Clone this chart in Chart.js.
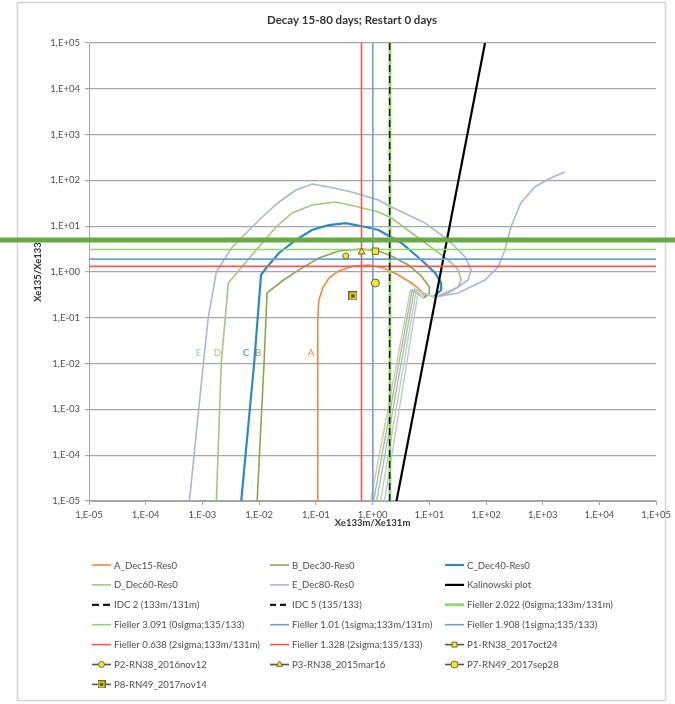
<!DOCTYPE html>
<html>
<head>
<meta charset="utf-8">
<script src="https://cdn.jsdelivr.net/npm/chart.js@4.4.1/dist/chart.umd.min.js"></script>
<style>
  html, body { margin: 0; padding: 0; background: #ffffff; }
  #wrap { position: relative; width: 675px; height: 704px; }
</style>
</head>
<body>
<div id="wrap"><canvas id="c" width="675" height="704"></canvas></div>
<script>
// ---- axis ticks (decades only) ----
const tickValues = [1e-5, 1e-4, 1e-3, 1e-2, 1e-1, 1, 10, 100, 1e3, 1e4, 1e5];
const tickLabels = ['1,E-05', '1,E-04', '1,E-03', '1,E-02', '1,E-01', '1,E+00',
                    '1,E+01', '1,E+02', '1,E+03', '1,E+04', '1,E+05'];

// ---- decay curves: [Xe133m/Xe131m, Xe135/Xe133] ----
const curveA = [[0.108,1e-5],[0.108,0.09],[0.113,0.245],[0.133,0.45],[0.169,0.74],[0.253,1.05],
  [0.464,1.35],[0.851,1.42],[1.56,1.22],[2.86,0.86],[4.83,0.575],[6.95,0.405],[8.5,0.30],
  [4.64,0.40],[0.922,1e-5]];
const curveB = [[9.22e-3,1e-5],[0.0122,0.0103],[0.0138,0.348],[0.0254,0.636],[0.0503,1.11],
  [0.113,2.02],[0.253,2.87],[0.641,3.18],[1.27,2.87],[2.15,2.24],[4.28,1.42],[7.24,0.818],
  [10.0,0.47],[10.0,0.331],[7.85,0.271],[5.0,0.405],[1.04,1e-5]];
const curveC = [[4.83e-3,1e-5],[8.17e-3,0.0103],[0.0108,0.86],[0.0133,1.22],[0.0224,2.60],
  [0.0446,5.0],[0.0851,8.26],[0.169,10.6],[0.336,11.7],[0.754,9.6],[1.27,8.26],[3.23,4.30],
  [7.24,1.83],[12.7,0.95],[16.2,0.575],[16.2,0.405],[11.7,0.284],[5.46,0.425],[1.18,1e-5]];
const curveD = [[1.76e-3,1e-5],[2.15e-3,0.0103],[2.86e-3,0.575],[4.46e-3,1.11],[8.86e-3,3.02],
  [0.0199,9.6],[0.038,19.4],[0.0851,29.0],[0.224,33.8],[0.568,26.3],[1.27,20.4],[2.15,15.1],
  [8.51,4.30],[21.5,1.83],[32.3,1.11],[36.4,0.67],[32.3,0.47],[21.5,0.348],[12.7,0.284],
  [5.91,0.405],[1.38,1e-5]];
const curveE = [[5.9e-4,1e-5],[1.04e-3,0.0103],[1.27e-3,0.104],[1.76e-3,1.0],[1.99e-3,1.29],
  [3.36e-3,3.52],[5.92e-3,7.11],[0.0113,15.9],[0.0224,33.8],[0.0446,61.7],[0.0851,83.4],
  [0.169,71.8],[0.428,55.8],[1.27,37.3],[2.15,26.3],[8.51,11.7],[21.5,5.0],[42.8,2.13],
  [54.6,1.11],[48.3,0.67],[32.3,0.47],[19.1,0.348],[12.7,0.284],[6.41,0.385],[1.62,1e-5],
  null,
  [12.7,0.284],[32.3,0.348],[96,0.67],[163,1.29],[215,3.02],[275,9.6],[411,32.1],[724,71.8],
  [1380,113],[2430,152]];
// index of the point where each curve turns into its steep lower branch
const lowerBranchFrom = { A: 12, B: 14, C: 16, D: 18, E: 22 };
const kalinowski = [[2.64,1e-5],[96,1e5]];

// ---- screening thresholds ----
const idcRatio133m131m = 2;
const idcRatio135133 = 5;
const fieller133m131m = [2.022, 1.01, 0.638];   // 0, 1, 2 sigma
const fieller135133   = [3.091, 1.908, 1.328];  // 0, 1, 2 sigma

// ---- measured samples ----
const sampleP1 = [[1.12, 2.85]];
const sampleP2 = [[0.336, 2.24]];
const sampleP3 = [[0.641, 2.73]];
const sampleP7 = [[1.12, 0.575]];
const sampleP8 = [[0.45, 0.30]];

// ---- curve tags drawn on the plot ----
const tagText = ['E', 'D', 'C', 'B', 'A'];
const tagX = [8.5e-4, 1.83e-3, 5.9e-3, 9.6e-3, 0.0817];
const tagY = 0.017;

const colA = '#f08a3c', colB = '#86a94c', colC = '#2a8bc2', colD = '#a5c77c', colE = '#aab6d8';
const paleA = '#cfc7b4', paleB = '#a9c08e', paleC = '#a2bccd', paleD = '#bcd3a2', paleE = '#bcc5dd';
const colGreen = '#8fd96b', colBlue = '#6f9fd8', colRed = '#f25a5a';
const markFill = '#f3e43f', markEdge = '#6b6b1c';

function pts(arr) {
  return arr.map(p => p ? { x: p[0], y: p[1] } : { x: null, y: null });
}
function vLine(v) { return [[v, 1e-5], [v, 1e5]]; }
function hLine(v) { return [[1e-5, v], [1e5, v]]; }

function lineSet(label, data, color, width, order, extra) {
  return Object.assign({
    label, data: pts(data), borderColor: color, backgroundColor: color,
    borderWidth: width, showLine: true, pointRadius: 0, pointHoverRadius: 0,
    tension: 0, fill: false, order
  }, extra || {});
}
function curveSet(label, data, color, pale, from, width, order) {
  return lineSet(label, data, color, width, order, {
    segment: {
      borderColor: ctx => (ctx.p0DataIndex >= from && ctx.p0DataIndex < from + 2) ? pale : undefined,
      borderWidth: ctx => (ctx.p0DataIndex >= from && ctx.p0DataIndex < from + 2) ? 1.4 : undefined
    }
  });
}
function pointSet(label, data, style, radius, order) {
  return {
    label, data: pts(data), showLine: false, pointStyle: style, pointRadius: radius,
    pointHoverRadius: radius, pointBackgroundColor: markFill, pointBorderColor: markEdge,
    pointBorderWidth: 1, borderColor: '#555555', backgroundColor: markFill, order
  };
}

// yellow square with a cross, used for P8
function makeCrossBox(size) {
  const cv = document.createElement('canvas');
  cv.width = size; cv.height = size;
  const g = cv.getContext('2d');
  g.fillStyle = markFill; g.fillRect(0.5, 0.5, size - 1, size - 1);
  g.strokeStyle = markEdge; g.lineWidth = 1; g.strokeRect(0.5, 0.5, size - 1, size - 1);
  g.strokeStyle = '#3a3a10'; g.lineWidth = 1.4;
  const a = size * 0.3, b = size * 0.7;
  g.beginPath(); g.moveTo(a, a); g.lineTo(b, b); g.moveTo(b, a); g.lineTo(a, b); g.stroke();
  return cv;
}
const crossBox = makeCrossBox(9);
const crossBoxSmall = makeCrossBox(8);

const datasets = [
  curveSet('A_Dec15-Res0', curveA, colA, paleA, lowerBranchFrom.A, 1.6, 0),
  curveSet('B_Dec30-Res0', curveB, colB, paleB, lowerBranchFrom.B, 1.6, -1),
  curveSet('C_Dec40-Res0', curveC, colC, paleC, lowerBranchFrom.C, 2.2, -2),
  curveSet('D_Dec60-Res0', curveD, colD, paleD, lowerBranchFrom.D, 1.6, -3),
  curveSet('E_Dec80-Res0', curveE, colE, paleE, lowerBranchFrom.E, 1.6, -4),
  lineSet('Kalinowski plot', kalinowski, '#000000', 2.2, -5),
  lineSet('IDC 2 (133m/131m)', vLine(idcRatio133m131m), '#1a1a1a', 1.5, -12, { borderDash: [7, 4] }),
  lineSet('IDC 5 (135/133)', hLine(idcRatio135133), '#1a1a1a', 1.5, -13, { borderDash: [6, 4] }),
  lineSet('Fieller 2.022 (0sigma;133m/131m)', vLine(fieller133m131m[0]), colGreen, 2.8, -6),
  lineSet('Fieller 3.091 (0sigma;135/133)', hLine(fieller135133[0]), colGreen, 1.6, -7),
  lineSet('Fieller 1.01 (1sigma;133m/131m)', vLine(fieller133m131m[1]), colBlue, 1.6, -8),
  lineSet('Fieller 1.908 (1sigma;135/133)', hLine(fieller135133[1]), colBlue, 1.6, -9),
  lineSet('Fieller 0.638 (2sigma;133m/131m)', vLine(fieller133m131m[2]), colRed, 1.6, -10),
  lineSet('Fieller 1.328 (2sigma;135/133)', hLine(fieller135133[2]), colRed, 1.6, -11),
  pointSet('P1-RN38_2017oct24', sampleP1, 'rect', 4.5, -14),
  pointSet('P2-RN38_2016nov12', sampleP2, 'circle', 3, -15),
  pointSet('P3-RN38_2015mar16', sampleP3, 'triangle', 4, -16),
  pointSet('P7-RN49_2017sep28', sampleP7, 'circle', 4, -17),
  pointSet('P8-RN49_2017nov14', sampleP8, crossBox, 4.5, -18)
];

const FONT = 'Lato, "Open Sans", "DejaVu Sans", sans-serif';
const TEXT = '#4f4f4f';

// frame, title, axis titles, IDC-5 highlight, curve tags and the three-column legend
const decor = {
  id: 'decor',
  beforeDraw(chart) {
    const g = chart.ctx;
    g.save();
    g.fillStyle = '#ffffff';
    g.fillRect(0, 0, chart.width, chart.height);
    g.strokeStyle = '#d4d4d4';
    g.lineWidth = 1.5;
    g.strokeRect(17.5, 2.5, 648, 698);
    g.restore();
  },
  afterDatasetsDraw(chart) {
    const g = chart.ctx, xs = chart.scales.x, ys = chart.scales.y;
    g.save();
    // curve tags
    g.font = '9.5px ' + FONT;
    g.textAlign = 'center';
    g.textBaseline = 'middle';
    const tagCols = [colE, colD, colC, colB, colA];
    tagText.forEach((t, i) => {
      g.fillStyle = tagCols[i];
      g.fillText(t, xs.getPixelForValue(tagX[i]), ys.getPixelForValue(tagY));
    });
    // highlighted IDC 5 threshold across the whole figure
    const yy = ys.getPixelForValue(idcRatio135133);
    g.strokeStyle = '#6aaa45';
    g.lineWidth = 5;
    g.beginPath();
    g.moveTo(0, yy);
    g.lineTo(chart.width, yy);
    g.stroke();
    g.restore();
  },
  afterDraw(chart) {
    const g = chart.ctx, area = chart.chartArea;
    g.save();
    g.fillStyle = '#333333';
    g.textAlign = 'center';
    g.textBaseline = 'middle';
    g.font = 'bold 11.5px ' + FONT;
    g.fillText('Decay 15-80 days; Restart 0 days', 352, 20);
    g.font = 'bold 9.5px ' + FONT;
    g.fillText('Xe133m/Xe131m', (area.left + area.right) / 2, 523);
    g.save();
    g.translate(38, (area.top + area.bottom) / 2);
    g.rotate(-Math.PI / 2);
    g.fillText('Xe135/Xe133', 0, 0);
    g.restore();

    // legend
    const colX = [92, 270, 445];
    const rowY0 = 565, rowH = 19.9, swatch = 19;
    g.font = '9.6px ' + FONT;
    g.textAlign = 'left';
    chart.data.datasets.forEach((ds, i) => {
      const x0 = colX[i % 3], y = rowY0 + Math.floor(i / 3) * rowH;
      g.save();
      g.strokeStyle = ds.showLine ? ds.borderColor : '#555555';
      g.lineWidth = ds.showLine ? Math.max(ds.borderWidth, 1.6) : 1.6;
      if (ds.borderDash) g.lineWidth = 2.2;
      g.setLineDash(ds.borderDash || []);
      g.beginPath();
      g.moveTo(x0, y);
      g.lineTo(x0 + swatch, y);
      g.stroke();
      g.setLineDash([]);
      if (!ds.showLine) {
        const style = ds.pointStyle === crossBox ? crossBoxSmall : ds.pointStyle;
        g.fillStyle = ds.pointBackgroundColor;
        g.strokeStyle = ds.pointBorderColor;
        g.lineWidth = ds.pointBorderWidth;
        Chart.helpers.drawPoint(g, {
          pointStyle: style, radius: Math.min(ds.pointRadius, 3.5),
          rotation: 0, borderWidth: ds.pointBorderWidth
        }, x0 + swatch / 2, y);
      }
      g.restore();
      g.fillStyle = TEXT;
      g.fillText(ds.label, x0 + swatch + 3, y + 0.5);
    });
    g.restore();
  }
};

const axisCommon = {
  type: 'logarithmic',
  min: 1e-5,
  max: 1e5,
  afterBuildTicks: s => { s.ticks = tickValues.map(v => ({ value: v })); },
  ticks: {
    autoSkip: false, maxRotation: 0, minRotation: 0, color: TEXT,
    font: { family: FONT, size: 9.5 },
    callback: (v, i) => tickLabels[i]
  },
  border: { display: true, color: '#a6a6a6', width: 1 }
};

new Chart(document.getElementById('c'), {
  type: 'scatter',
  data: { datasets },
  options: {
    responsive: false,
    animation: false,
    events: [],
    layout: { padding: { left: 0, right: 16, top: 43, bottom: 183 } },
    plugins: { legend: { display: false }, title: { display: false }, tooltip: { enabled: false } },
    scales: {
      x: Object.assign({}, axisCommon, {
        position: 'bottom',
        afterFit: s => { s.height = 20; },
        ticks: Object.assign({}, axisCommon.ticks, { padding: 4 }),
        grid: { drawOnChartArea: false, drawTicks: true, tickLength: 4, color: '#a6a6a6', lineWidth: 1 }
      }),
      y: Object.assign({}, axisCommon, {
        position: 'left',
        afterFit: s => { s.width = 89; },
        ticks: Object.assign({}, axisCommon.ticks, { padding: 5 }),
        grid: { drawTicks: true, tickLength: 4, color: '#a6a6a6', lineWidth: 1.2 }
      })
    }
  },
  plugins: [decor]
});
</script>
</body>
</html>
